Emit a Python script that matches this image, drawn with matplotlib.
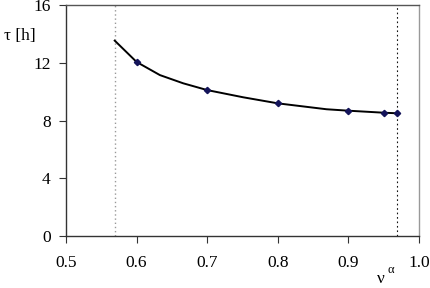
"""Relaxation time tau versus nu^alpha, with limiting values marked."""

import matplotlib

matplotlib.use("Agg")
import matplotlib.pyplot as plt

plt.rcParams["font.family"] = ["Liberation Serif", "DejaVu Serif"]

# curve
curve_nu = [0.569, 0.6, 0.633, 0.666, 0.7, 0.751, 0.8, 0.869, 0.9, 0.95, 0.969]
curve_tau = [13.55, 12.07, 11.16, 10.59, 10.12, 9.62, 9.2, 8.79, 8.69, 8.55, 8.51]

# computed points (markers)
point_nu = [0.6, 0.7, 0.8, 0.9, 0.95, 0.969]
point_tau = [12.07, 10.12, 9.2, 8.69, 8.55, 8.51]

# limiting values of nu^alpha
nu_low = 0.569
nu_high = 0.969

x_ticks = [0.5, 0.6, 0.7, 0.8, 0.9, 1.0]
x_tick_labels = ["0.5", "0.6", "0.7", "0.8", "0.9", "1.0"]
y_ticks = [0, 4, 8, 12, 16]

fig = plt.figure(figsize=(4.3, 2.88), dpi=100)
ax = fig.add_axes([0.1535, 0.1806, 0.8209, 0.8010])

ax.axvline(nu_low, color="#999999", lw=1.0, ls=(0, (1, 2)))
ax.axvline(nu_high, color="#111111", lw=0.8, ls=(0, (1.5, 2.5)))
ax.plot(curve_nu, curve_tau, color="black", lw=1.4, zorder=3)
ax.plot(point_nu, point_tau, ls="none", marker="D", ms=3.2,
        color="#14145a", zorder=4)

ax.set_xlim(0.5, 1.0)
ax.set_ylim(0, 16)
ax.set_xticks(x_ticks)
ax.set_xticklabels(x_tick_labels)
ax.set_yticks(y_ticks)
ax.tick_params(axis="both", direction="out", length=5, width=0.8,
               labelsize=12.5, color="#333333")
ax.tick_params(axis="x", pad=9)
ax.tick_params(axis="y", pad=6)

for side in ["left", "bottom"]:
    ax.spines[side].set_color("#333333")
    ax.spines[side].set_linewidth(1.0)
ax.spines["top"].set_color("#555555")
ax.spines["top"].set_linewidth(1.0)
ax.spines["right"].set_color("#999999")
ax.spines["right"].set_linewidth(1.0)

fig.text(0.009, 0.875, "τ [h]", fontsize=12.5, ha="left", va="center")
fig.text(0.876, 0.003, "ν", fontsize=12.5, ha="left", va="bottom")
fig.text(0.900, 0.042, "α", fontsize=9, ha="left", va="bottom")

fig.savefig("out.png", dpi=100)
